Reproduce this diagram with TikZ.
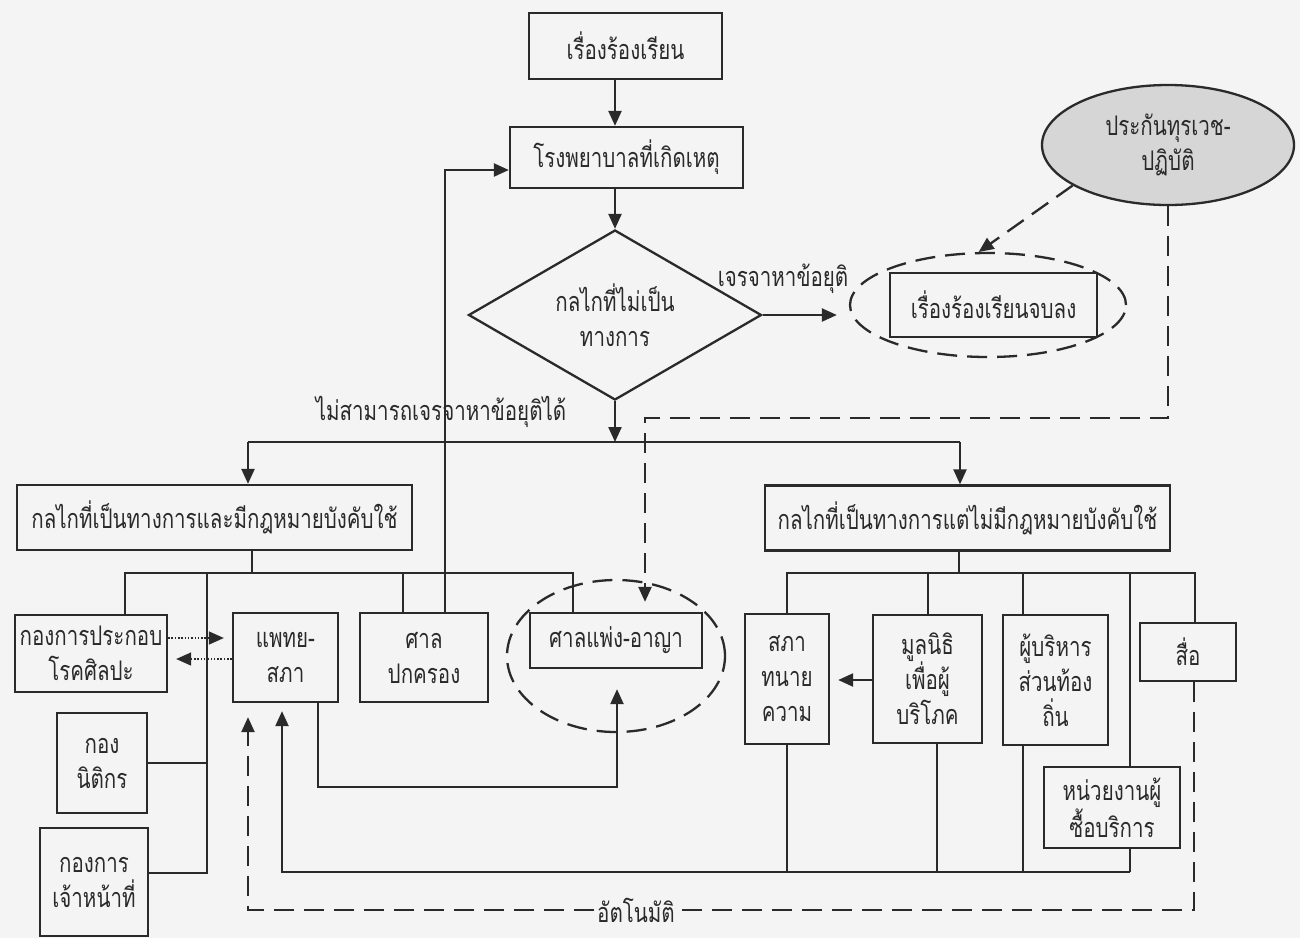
\documentclass[tikz,border=0pt]{standalone}
\usepackage{fontspec}
\newfontfamily\thaifnt[Script=Thai,FakeStretch=0.76]{Loma}
\newcommand\thaitxt{\thaifnt\fontsize{27}{35}\selectfont}
\usetikzlibrary{shapes.geometric,arrows.meta,calc}
\definecolor{ink}{HTML}{2A2A2A}
\definecolor{paper}{HTML}{F4F4F4}
\definecolor{shade}{HTML}{D6D6D6}
\begin{document}
\begin{tikzpicture}[x=1pt,y=-1pt,line width=2.3pt,
  every node/.style={text=ink},
  box/.style={draw=ink,rectangle,inner sep=2pt,align=center,font=\thaitxt},
  lbl/.style={font=\thaitxt,inner sep=2pt},
  arr/.style={-{Triangle[length=15pt,width=13pt]}},
  dsh/.style={dash pattern=on 20pt off 10pt},
  dot/.style={line width=1.5pt,dash pattern=on 1.5pt off 1.8pt},
  ln/.style={draw=ink}]
\fill[paper] (0,0) rectangle (1300,938);
\useasboundingbox (0,0) rectangle (1300,938);

% top part
\node[box,minimum width=193pt,minimum height=66pt] (a) at (625.5,46) {เรื่องร้องเรียน};
\node[box,minimum width=233pt,minimum height=61pt] (b) at (626.5,157.5) {โรงพยาบาลที่เกิดเหตุ};
\node[draw=ink,diamond,aspect=1.72,minimum width=293pt,minimum height=170pt,inner sep=0pt,align=center,font=\thaitxt] (d) at (615,315) {กลไกที่ไม่เป็น\\ทางการ};
\node[draw=ink,dsh,ellipse,minimum width=276pt,minimum height=104pt,inner sep=0pt] (e1) at (988,305) {};
\node[box,minimum width=207pt,minimum height=64pt] (c) at (993.5,305) {เรื่องร้องเรียนจบลง};
\node[draw=ink,ellipse,fill=shade,minimum width=252pt,minimum height=120pt,inner sep=0pt,align=center,font=\thaitxt] (e2) at (1168,145) {ประกันทุรเวช-\\ปฏิบัติ};
\node[lbl] (lb1) at (783,279) {เจรจาหาข้อยุติ};
\node[lbl] (lb2) at (441,412) {ไม่สามารถเจรจาหาข้อยุติได้};

% second level
\node[box,minimum width=395pt,minimum height=65pt] (L1) at (214.5,517.5) {กลไกที่เป็นทางการและมีกฎหมายบังคับใช้};
\node[box,minimum width=405pt,minimum height=65pt] (R1) at (967.5,518) {กลไกที่เป็นทางการแต่ไม่มีกฎหมายบังคับใช้};

% left children
\node[box,minimum width=152pt,minimum height=77pt] (k1) at (91,653.5) {กองการประกอบ\\โรคศิลปะ};
\node[box,minimum width=105pt,minimum height=89pt] (k2) at (285.5,657.5) {แพทย-\\สภา};
\node[box,minimum width=128pt,minimum height=89pt] (k3) at (424,657.5) {ศาล\\ปกครอง};
\node[box,minimum width=172pt,minimum height=55pt] (k4) at (616,640.5) {ศาลแพ่ง-อาญา};
\node[draw=ink,dsh,ellipse,minimum width=218pt,minimum height=152pt,inner sep=0pt] (e3) at (616,656) {};
\node[box,minimum width=90pt,minimum height=100pt] (k5) at (102,763) {กอง\\นิติกร};
\node[box,minimum width=108pt,minimum height=108pt] (k6) at (94,882) {กองการ\\เจ้าหน้าที่};

% right children
\node[box,minimum width=84pt,minimum height=130pt] (r1) at (787,679) {สภา\\ทนาย\\ความ};
\node[box,minimum width=109pt,minimum height=128pt] (r2) at (927.5,679) {มูลนิธิ\\เพื่อผู้\\บริโภค};
\node[box,minimum width=105pt,minimum height=130pt] (r3) at (1055.5,680) {ผู้บริหาร\\ส่วนท้อง\\ถิ่น};
\node[box,minimum width=96pt,minimum height=58pt] (r4) at (1188,652) {สื่อ};
\node[box,minimum width=136pt,minimum height=81pt] (r5) at (1112,807.5) {หน่วยงานผู้\\ซื้อบริการ};
\node[lbl] (lb3) at (636,910) {อัตโนมัติ};

% coordinates
\coordinate (sp) at (615,442);
\coordinate (jL) at (248,442);
\coordinate (jR) at (960,442);
\coordinate (fb) at (445,170);
\coordinate (dc) at (645,418);
\coordinate (lb) at (252,573);
\coordinate (l1) at (125,573);
\coordinate (l2) at (207,573);
\coordinate (l2b) at (207,873);
\coordinate (l3) at (403,573);
\coordinate (l4) at (573,573);
\coordinate (dt1) at (0,638);
\coordinate (dt2) at (0,659);
\coordinate (m1) at (318,787);
\coordinate (m2) at (617,787);
\coordinate (bl1) at (282,872);
\coordinate (bl2) at (1130,872);
\coordinate (rb) at (959,573);
\coordinate (r1t) at (787,573);
\coordinate (r2t) at (928,573);
\coordinate (r3t) at (1023,573);
\coordinate (r6t) at (1130,573);
\coordinate (r5t) at (1195,573);
\coordinate (r2b) at (937,872);
\coordinate (r3b) at (1023,872);
\coordinate (ra) at (0,680);
\coordinate (dd1) at (1194,910);
\coordinate (dd2) at (248,910);

% connectors top
\draw[ln,arr] (a.south -| d.north) -- (b.north -| d.north);
\draw[ln,arr] (b.south -| d.north) -- (d.north);
\draw[ln,arr,shorten >=12pt] (d.east) -- (e1.west |- d.east);
\draw[ln,arr,dsh] (e2.203) -- (e1.100);
\draw[ln,arr,dsh,shorten >=10pt] (e2.south) |- (dc) -- (k4.north -| dc);
\draw[ln,arr] (d.south) -- (sp);
\draw[ln] (jL) -- (jR);
\draw[ln,arr] (jL) -- (L1.north -| jL);
\draw[ln,arr] (jR) -- (R1.north -| jR);
\draw[ln,arr] (k3.north -| fb) -- (fb) -- (b.west |- fb);

% left tree
\draw[ln] (L1.south -| lb) -- (lb);
\draw[ln] (k1.north -| l1) -- (l1) -- (l4) -- (k4.north -| l4);
\draw[ln] (l3) -- (k3.north -| l3);
\draw[ln] (l2) -- (l2b) -- (k6.east |- l2b);
\draw[ln] (k5.east) -- (k5.east -| l2);
\draw[ln,dot,arr,shorten >=8pt] (k1.east |- dt1) -- (k2.west |- dt1);
\draw[ln,dot,arr,shorten >=8pt] (k2.west |- dt2) -- (k1.east |- dt2);
\draw[ln,arr,shorten >=20pt] (k2.south -| m1) -- (m1) -- (m2) -- (k4.south -| m2);

% right tree
\draw[ln] (R1.south -| rb) -- (rb);
\draw[ln] (r1.north -| r1t) -- (r1t) -- (r5t) -- (r4.north -| r5t);
\draw[ln] (r2t) -- (r2.north -| r2t);
\draw[ln] (r3t) -- (r3.north -| r3t);
\draw[ln] (r6t) -- (r5.north -| r6t);
\draw[ln] (r5.south -| bl2) -- (bl2);
\draw[ln] (r1.south) -- (r1.south |- bl2);
\draw[ln] (r2.south -| r2b) -- (r2b);
\draw[ln] (r3.south -| r3b) -- (r3b);
\draw[ln,arr,shorten >=8pt] (r2.west |- ra) -- (r1.east |- ra);
\draw[ln,arr,shorten >=8pt] (bl2) -- (bl1) -- (k2.south -| bl1);

% dashed automatic
\draw[ln,dsh] (r4.south -| dd1) -- (dd1) -- (lb3.east);
\draw[ln,dsh,arr,shorten >=14pt] (lb3.west) -- (dd2) -- (k2.south -| dd2);
\end{tikzpicture}
\end{document}
